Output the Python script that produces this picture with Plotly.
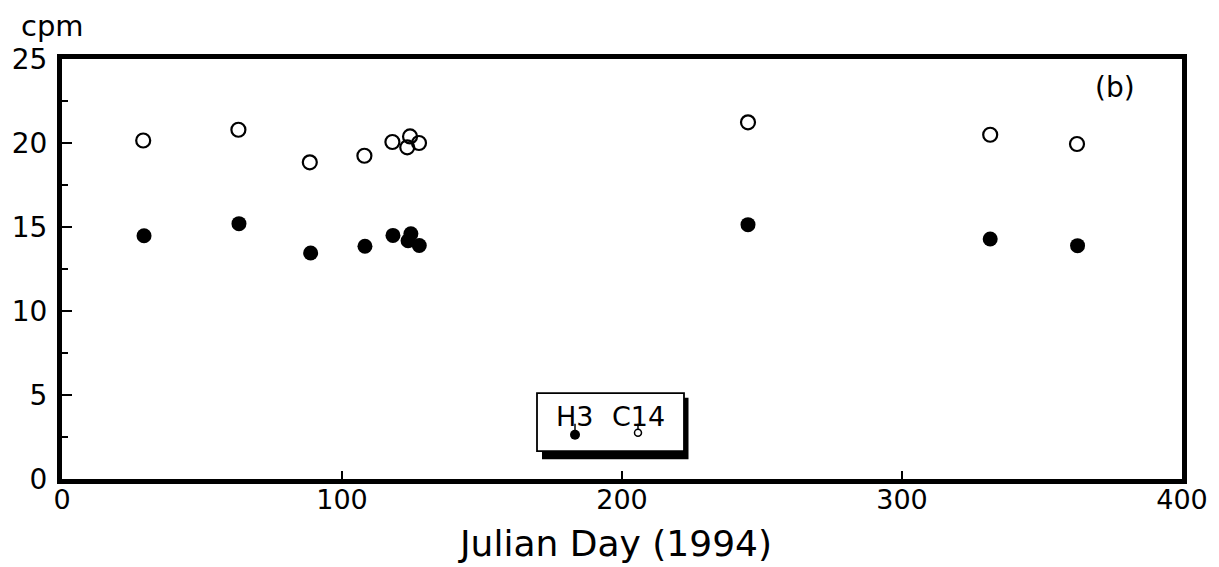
import plotly.graph_objects as go

# Data (Julian day 1994, counts per minute)
c14_days = [29, 63, 88.5, 108, 118, 124.3, 123.3, 127.5, 245, 331.5, 362.5]
c14_cpm = [20.15, 20.79, 18.85, 19.24, 20.06, 20.39, 19.74, 20.0, 21.23, 20.49, 19.94]
h3_days = [29.3, 63.2, 88.8, 108.2, 118.2, 124.6, 123.6, 127.6, 245, 331.5, 362.7]
h3_cpm = [14.48, 15.2, 13.45, 13.85, 14.5, 14.6, 14.18, 13.9, 15.14, 14.29, 13.89]

x_ticks = [0, 100, 200, 300, 400]
y_ticks = [0, 5, 10, 15, 20, 25]

FONT = "DejaVu Sans, Arial, sans-serif"

fig = go.Figure()
fig.add_trace(go.Scatter(
    x=c14_days, y=c14_cpm, mode="markers", name="C14",
    marker=dict(symbol="circle-open", size=14, color="black", line=dict(width=2.2, color="black")),
))
fig.add_trace(go.Scatter(
    x=h3_days, y=h3_cpm, mode="markers", name="H3",
    marker=dict(symbol="circle", size=15, color="black"),
))

# page-pixel helpers (plot area on the page: x 62..1182, y 59.3..479.3)
def px2x(px):
    return (px - 62) / 2.8

def py2y(py):
    return (479.3 - py) / 16.8

def ppx(px):
    return (px - 62) / 1120

def ppy(py):
    return (479.3 - py) / 420

shapes = []
# legend shadow
shapes.append(dict(type="rect", xref="x", yref="y", layer="above",
                   x0=px2x(542), x1=px2x(688.5), y0=py2y(398), y1=py2y(459.5),
                   fillcolor="black", line=dict(width=0)))
# legend box
shapes.append(dict(type="rect", xref="x", yref="y", layer="above",
                   x0=px2x(537), x1=px2x(684), y0=py2y(393.5), y1=py2y(451.5),
                   fillcolor="white", line=dict(width=1.8, color="black")))
# legend stems
shapes.append(dict(type="line", xref="x", yref="y", layer="above",
                   x0=px2x(575), x1=px2x(575), y0=py2y(424), y1=py2y(432),
                   line=dict(width=1.5, color="black")))
shapes.append(dict(type="line", xref="x", yref="y", layer="above",
                   x0=px2x(638), x1=px2x(638), y0=py2y(424), y1=py2y(429.5),
                   line=dict(width=1.5, color="black")))
# legend symbols
shapes.append(dict(type="circle", xref="x", yref="y", layer="above",
                   x0=px2x(570), x1=px2x(580), y0=py2y(430), y1=py2y(440),
                   fillcolor="black", line=dict(width=0)))
shapes.append(dict(type="circle", xref="x", yref="y", layer="above",
                   x0=px2x(634.5), x1=px2x(641.5), y0=py2y(429.5), y1=py2y(436.5),
                   fillcolor="white", line=dict(width=1.5, color="black")))

annotations = [
    dict(text="H3", x=px2x(574), y=py2y(417), xref="x", yref="y", showarrow=False,
         font=dict(size=27, family=FONT, color="black"), xanchor="center", yanchor="middle"),
    dict(text="C14", x=px2x(638), y=py2y(417), xref="x", yref="y", showarrow=False,
         font=dict(size=27, family=FONT, color="black"), xanchor="center", yanchor="middle"),
    dict(text="cpm", x=ppx(52), y=ppy(26), xref="paper", yref="paper",
         showarrow=False, font=dict(size=29, family=FONT, color="black"),
         xanchor="center", yanchor="middle"),
    dict(text="(b)", x=ppx(1115), y=ppy(88), xref="paper", yref="paper",
         showarrow=False, font=dict(size=28, family=FONT, color="black"),
         xanchor="center", yanchor="middle"),
    dict(text="Julian Day (1994)", x=ppx(615), y=ppy(544),
         xref="paper", yref="paper", showarrow=False,
         font=dict(size=36, family=FONT, color="black"), xanchor="center", yanchor="middle"),
]

# The page body has an 8px default margin, so the figure is shrunk by 8px
# to keep the plot area where it is in the reference.
fig.update_layout(
    width=1211, height=559,
    margin=dict(l=54, r=37, t=51, b=88, autoexpand=False),
    paper_bgcolor="white", plot_bgcolor="white",
    showlegend=False,
    font=dict(family=FONT, color="black", size=28),
    shapes=shapes, annotations=annotations,
    xaxis=dict(range=[0, 400], tickvals=x_ticks, ticktext=[str(v) for v in x_ticks],
               automargin=False,
               showgrid=False, zeroline=False, showline=True, mirror=True,
               linecolor="black", linewidth=5, ticks="inside", ticklen=8, tickwidth=2,
               tickcolor="black", tickfont=dict(size=27, family=FONT), ticklabelstandoff=-7),
    yaxis=dict(range=[0, 25], tickvals=y_ticks, ticktext=[str(v) for v in y_ticks],
               automargin=False,
               showgrid=False, zeroline=False, showline=True, mirror=True,
               linecolor="black", linewidth=5, ticks="inside", ticklen=10, tickwidth=2,
               tickcolor="black", tickfont=dict(size=28, family=FONT), ticklabelstandoff=4,
               minor=dict(dtick=2.5, ticks="inside", ticklen=6, tickwidth=1.5, tickcolor="black",
                          showgrid=False)),
)

fig.write_html("out.html")
